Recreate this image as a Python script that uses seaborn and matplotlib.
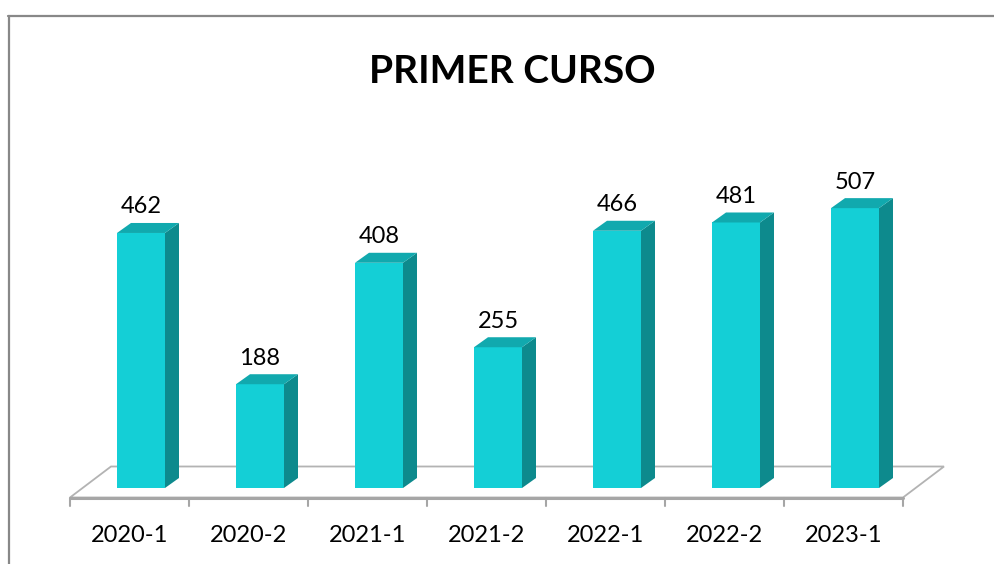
import matplotlib
matplotlib.use("Agg")
import matplotlib.pyplot as plt
from matplotlib.patches import Polygon
from matplotlib.lines import Line2D
import seaborn as sns
import pandas as pd

# ---- data ----
categories = ["2020-1", "2020-2", "2021-1", "2021-2", "2022-1", "2022-2", "2023-1"]
values = [462, 188, 408, 255, 466, 481, 507]
title = "PRIMER CURSO"

sns.set_theme(style="white")
plt.rcParams["font.family"] = ["Lato", "DejaVu Sans"]

W, H = 994, 564
fig = plt.figure(figsize=(W / 100, H / 100), dpi=100)
fig.patch.set_facecolor("white")

# axes placement (pixels)
ax_left, ax_w = 81.5, 833.0
ax_bottom_from_top, ax_h = 488.0, 331.2
YMAX = 600
ax = fig.add_axes([ax_left / W, (H - ax_bottom_from_top) / H, ax_w / W, ax_h / H])
ax.set_facecolor("none")

n = len(categories)
px_x = ax_w / n          # pixels per x data unit
px_y = ax_h / YMAX       # pixels per y data unit


def dx(p):
    return p / px_x


def dy(p):
    return p / px_y


front_c = "#14CFD6"
side_c = "#0D8A8D"
top_c = "#11A9AE"

df = pd.DataFrame({"periodo": categories, "valor": values})
sns.barplot(data=df, x="periodo", y="valor", order=categories, color=front_c,
            saturation=1, width=48 / px_x, ax=ax, linewidth=0, zorder=3)
ax.set_xlim(-0.5, n - 0.5)
ax.set_ylim(0, YMAX)
ax.axis("off")

# floor (drawn behind bars)
fx0, fy0 = dx(-11.5), dy(-9.5)    # front edge offset
bx0, by0 = dx(29.5), dy(21.5)     # back edge offset
xl, xr = -0.5, n - 0.5
floor = Polygon([(xl + fx0, fy0), (xr + fx0, fy0), (xr + bx0, by0), (xl + bx0, by0)],
                closed=True, facecolor="white", edgecolor="#B3B3B3", lw=1.3,
                zorder=1, clip_on=False)
ax.add_patch(floor)
ax.add_line(Line2D([xl + fx0, xr + fx0], [fy0, fy0], color="#A6A6A6", lw=2.2,
                   zorder=1.5, clip_on=False))
for i in range(n + 1):
    xt = -0.5 + i + fx0
    ax.add_line(Line2D([xt, xt], [fy0, fy0 - dy(8.5)], color="#A6A6A6", lw=1.5,
                       zorder=1.5, clip_on=False))

# 3D faces of the bars
ddx, ddy = dx(14), dy(10)
for p in list(ax.patches):
    if p is floor:
        continue
    x, w, h = p.get_x(), p.get_width(), p.get_height()
    side = Polygon([(x + w, 0), (x + w + ddx, ddy), (x + w + ddx, h + ddy), (x + w, h)],
                   closed=True, facecolor=side_c, edgecolor="none", zorder=3, clip_on=False)
    top = Polygon([(x, h), (x + w, h), (x + w + ddx, h + ddy), (x + ddx, h + ddy)],
                  closed=True, facecolor=top_c, edgecolor="none", zorder=3, clip_on=False)
    ax.add_patch(side)
    ax.add_patch(top)

# value labels
for i, v in enumerate(values):
    ax.text(i, v + dy(19.5), str(v), ha="center", va="baseline",
            fontsize=17, color="black", zorder=5, clip_on=False)

# category labels
for i, c in enumerate(categories):
    ax.text(i + fx0, dy(-54), c, ha="center", va="baseline",
            fontsize=17, color="black", zorder=5, clip_on=False)

# title
fig.text(512 / W, 1 - 83 / H, title, ha="center", va="baseline",
         fontsize=28, fontweight="bold", color="black")

# chart frame (top and left edges visible)
fig.add_artist(Line2D([8 / W, 1.0], [1 - 16 / H, 1 - 16 / H], color="#888888", lw=1.6,
                      transform=fig.transFigure))
fig.add_artist(Line2D([9 / W, 9 / W], [1 - 16 / H, 0.0], color="#888888", lw=1.6,
                      transform=fig.transFigure))

fig.savefig("out.png", dpi=100, facecolor="white")
